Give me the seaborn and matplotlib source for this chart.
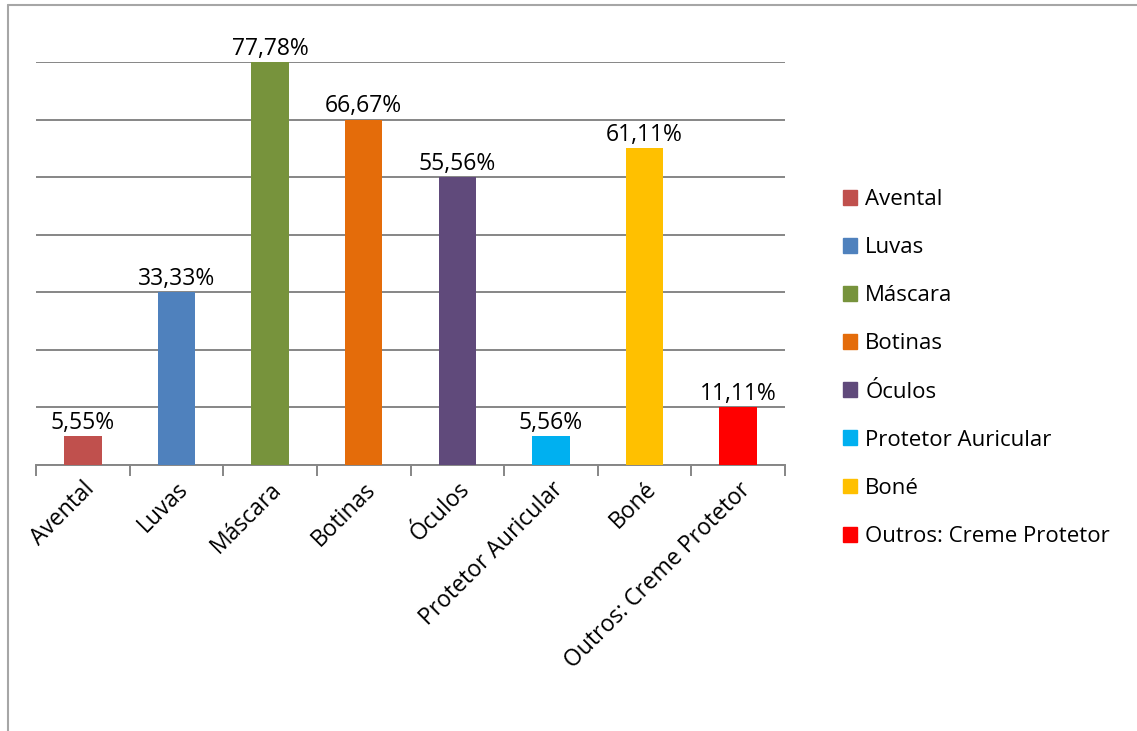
import numpy as np
import pandas as pd
import matplotlib
matplotlib.use("Agg")
import matplotlib.pyplot as plt
from matplotlib.patches import Patch
from matplotlib.lines import Line2D
import seaborn as sns

# dados do grafico
categorias = ["Avental", "Luvas", "Máscara", "Botinas", "Óculos",
              "Protetor Auricular", "Boné", "Outros: Creme Protetor"]
valores = [5.55, 33.33, 77.78, 66.67, 55.56, 5.56, 61.11, 11.11]
rotulos = ["5,55%", "33,33%", "77,78%", "66,67%", "55,56%", "5,56%", "61,11%", "11,11%"]
cores = ["#C0504D", "#4F81BD", "#77933C", "#E46C0A", "#604A7B",
         "#00B0F0", "#FFC000", "#FF0000"]

df = pd.DataFrame({"cat": categorias, "val": valores})

sns.set_style("white")
plt.rcParams["font.family"] = ["Open Sans", "DejaVu Sans"]
plt.rcParams["text.color"] = "black"
plt.rcParams["xtick.color"] = "black"
grid_col = "#868686"
fs = 16.5

fig = plt.figure(figsize=(11.37, 7.31), dpi=100)
ax = fig.add_axes([36 / 1137, (731 - 465) / 731, (785 - 36) / 1137, (465 - 62) / 731])

sns.barplot(data=df, x="cat", y="val", hue="cat", palette=cores, width=0.4,
            dodge=False, legend=False, saturation=1, linewidth=0, ax=ax, zorder=3)

ax.set_ylim(0, 7 * 100 / 9)
ax.set_xlim(-0.5, len(categorias) - 0.5)
ax.set_yticks(np.arange(0, 8) * 100 / 9)
ax.set_yticklabels([])
ax.tick_params(axis="y", length=0)
ax.grid(axis="y", color=grid_col, linewidth=1.4, zorder=0)
ax.set_axisbelow(True)
for s in ["left", "right", "top"]:
    ax.spines[s].set_visible(False)
ax.spines["bottom"].set_color(grid_col)
ax.spines["bottom"].set_linewidth(1.4)
ax.set_xlabel("")
ax.set_ylabel("")

# ticks nos limites das categorias
ax.set_xticks(range(len(categorias)))
ax.set_xticklabels(categorias, rotation=45, ha="right", va="top",
                   rotation_mode="anchor", fontsize=fs)
ax.set_xticks(np.arange(-0.5, len(categorias)), minor=True)
ax.tick_params(axis="x", which="minor", bottom=True, length=8, width=1.4, color=grid_col)
ax.tick_params(axis="x", which="major", bottom=True, length=0, pad=9, labelcolor="black")

for cont, lab in zip(ax.containers, rotulos):
    ax.bar_label(cont, labels=[lab], fontsize=fs, padding=1, color="black", clip_on=False)

handles = [Patch(facecolor=c, edgecolor=c) for c in cores]
ax.legend(handles, categorias, loc="center left", bbox_to_anchor=(823 / 1137, (731 - 368) / 731),
          bbox_transform=fig.transFigure, frameon=False, fontsize=16, labelcolor="black",
          handlelength=0.65, handleheight=0.65, handletextpad=0.35, labelspacing=1.22)

# moldura parcial
fig.add_artist(Line2D([8 / 1137, 8 / 1137], [0, 1 - 5 / 731], color="#A6A6A6", linewidth=1.5))
fig.add_artist(Line2D([8 / 1137, 1], [1 - 5 / 731, 1 - 5 / 731], color="#A6A6A6", linewidth=1.5))

fig.savefig("out.png", dpi=100)
